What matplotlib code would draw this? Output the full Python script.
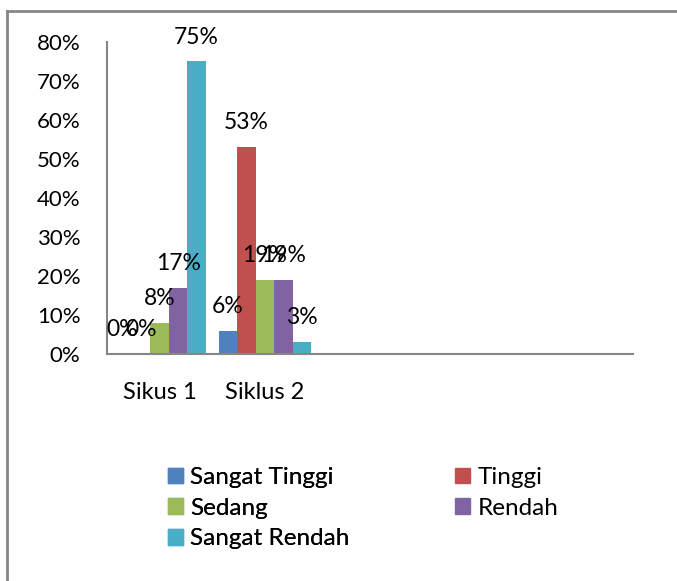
import numpy as np
import matplotlib
matplotlib.use("Agg")
from matplotlib import pyplot as plt
from matplotlib.patches import Patch

# data
categories = ["Sikus 1", "Siklus 2", "", "", ""]
series = ["Sangat Tinggi", "Tinggi", "Sedang", "Rendah", "Sangat Rendah"]
values = {
    "Sangat Tinggi": [0.00, 0.06],
    "Tinggi":        [0.00, 0.53],
    "Sedang":        [0.08, 0.19],
    "Rendah":        [0.17, 0.19],
    "Sangat Rendah": [0.75, 0.03],
}
colors = ["#4F81BD", "#C0504D", "#9BBB59", "#8064A2", "#4BACC6"]

plt.rcParams['font.family'] = ['Lato', 'DejaVu Sans']

W, H = 677, 581
fig = plt.figure(figsize=(W / 100, H / 100), dpi=100)

# outer chart frame (only top/left visible in the reference)
fig.add_artist(plt.Line2D([7 / W, 7 / W], [0, 1 - 11 / H], color="#868686", lw=2))
fig.add_artist(plt.Line2D([7 / W, 1], [1 - 11 / H, 1 - 11 / H], color="#868686", lw=2))

ax = fig.add_axes([107 / W, 1 - 354 / H, (633 - 107) / W, (354 - 42) / H])

n = len(series)
bw = 0.176
x = np.arange(len(categories))
for i, (name, col) in enumerate(zip(series, colors)):
    v = values[name]
    xs = x[:len(v)] + (i - (n - 1) / 2) * bw
    ax.bar(xs, v, width=bw, color=col, label=name)
    for xi, vi in zip(xs, v):
        ax.annotate(f"{vi:.0%}", (xi, vi), xytext=(0, 10), textcoords="offset points",
                    ha="center", va="bottom", fontsize=16.5)

ax.set_xlim(-0.5, len(categories) - 0.5)
ax.set_ylim(0, 0.8)
ticks = np.arange(0, 0.81, 0.1)
ax.set_yticks(ticks)
ax.set_yticklabels([f"{t:.0%}" for t in ticks])
ax.set_xticks(x)
ax.set_xticklabels(categories)
ax.tick_params(length=0)
ax.tick_params(axis="y", pad=19, labelsize=16)
ax.tick_params(axis="x", pad=20, labelsize=17)
for s in ["top", "right"]:
    ax.spines[s].set_visible(False)
for s in ["left", "bottom"]:
    ax.spines[s].set_color("#868686")
    ax.spines[s].set_linewidth(1.5)

# legend: two columns placed separately, filled row by row like Excel
handles = [Patch(color=c, label=s) for s, c in zip(series, colors)]
leg_kw = dict(loc="upper left", frameon=False,
              prop=dict(family=['Lato', 'DejaVu Sans'], weight='normal', size=17.5),
              handlelength=0.62, handleheight=0.62, handletextpad=0.3,
              labelspacing=0.4, borderpad=0, borderaxespad=0)
leg1 = fig.legend(handles=handles[0::2], bbox_to_anchor=(168 / W, 1 - 467 / H), **leg_kw)
fig.add_artist(leg1)
fig.legend(handles=handles[1::2], bbox_to_anchor=(455 / W, 1 - 467 / H), **leg_kw)

fig.savefig("out.png", dpi=100)
